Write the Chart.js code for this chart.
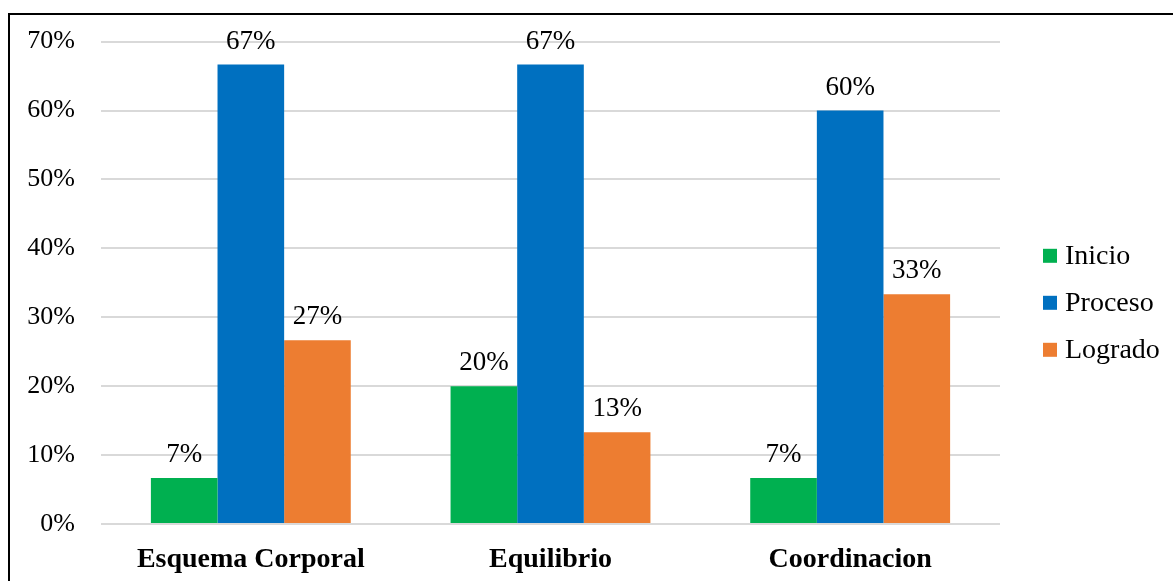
<!DOCTYPE html>
<html>
<head>
<meta charset="utf-8">
<script src="https://cdn.jsdelivr.net/npm/chart.js@4.4.1/dist/chart.umd.min.js"></script>
<style>
  html, body { margin: 0; padding: 0; background: #fff; }
  #wrap { position: relative; width: 1173px; height: 581px; overflow: hidden; }
  #frame { position: absolute; left: 8px; top: 13px; width: 1200px; height: 600px; border-left: 2px solid #000; border-top: 2px solid #000; box-sizing: border-box; pointer-events: none; }
  canvas { position: absolute; left: 0; top: 0; }
</style>
</head>
<body>
<div id="wrap">
  <canvas id="c" width="1173" height="581"></canvas>
  <div id="frame"></div>
</div>
<script>
const categories = ["Esquema Corporal", "Equilibrio", "Coordinacion"];
const seriesNames = ["Inicio", "Proceso", "Logrado"];
const inicio = [6.67, 20.0, 6.67];
const proceso = [66.67, 66.67, 60.0];
const logrado = [26.67, 13.33, 33.33];
const colors = ["#00b050", "#0070c0", "#ed7d31"];
const yMax = 70;
const yStep = 10;

const FONT = "'Liberation Serif', 'Times New Roman', serif";

const valueLabels = {
  id: 'valueLabels',
  afterDatasetsDraw(chart) {
    const ctx = chart.ctx;
    ctx.save();
    ctx.font = "27px " + FONT;
    ctx.fillStyle = "#000";
    ctx.textAlign = "center";
    ctx.textBaseline = "alphabetic";
    chart.data.datasets.forEach((ds, i) => {
      const meta = chart.getDatasetMeta(i);
      meta.data.forEach((bar, j) => {
        const v = ds.data[j];
        ctx.fillText(Math.round(v) + "%", bar.x, bar.y - 16);
      });
    });
    ctx.restore();
  }
};

const sideLegend = {
  id: 'sideLegend',
  afterDraw(chart) {
    const ctx = chart.ctx;
    const ca = chart.chartArea;
    const rowH = 47;
    const n = chart.data.datasets.length;
    const cy = (ca.top + ca.bottom) / 2 + 20;
    const x0 = ca.right + 43;
    ctx.save();
    ctx.font = "28px " + FONT;
    ctx.textAlign = "left";
    ctx.textBaseline = "middle";
    chart.data.datasets.forEach((ds, i) => {
      const y = cy + (i - (n - 1) / 2) * rowH;
      ctx.fillStyle = ds.backgroundColor;
      ctx.fillRect(x0, y - 7, 14, 14);
      ctx.fillStyle = "#000";
      ctx.fillText(ds.label, x0 + 22, y + 1);
    });
    ctx.restore();
  }
};

new Chart(document.getElementById('c'), {
  type: 'bar',
  data: {
    labels: categories,
    datasets: [
      { label: seriesNames[0], data: inicio, backgroundColor: colors[0] },
      { label: seriesNames[1], data: proceso, backgroundColor: colors[1] },
      { label: seriesNames[2], data: logrado, backgroundColor: colors[2] }
    ]
  },
  options: {
    responsive: false,
    animation: false,
    devicePixelRatio: 1,
    layout: { padding: { left: 27, right: 173, top: 39, bottom: 0 } },
    datasets: { bar: { categoryPercentage: 0.667, barPercentage: 1.0 } },
    scales: {
      x: {
        grid: { display: false },
        border: { display: false },
        ticks: { color: "#000", font: { family: FONT, size: 28, weight: "bold" }, padding: 11 },
        afterFit(scale) { scale.height = 57; }
      },
      y: {
        min: 0, max: yMax,
        grid: { color: "#d9d9d9", lineWidth: 2, drawTicks: false },
        border: { display: false },
        ticks: {
          stepSize: yStep,
          color: "#000",
          font: { family: FONT, size: 26 },
          padding: 26,
          callback: v => v + "%"
        },
        afterFit(scale) { scale.width = 74; }
      }
    },
    plugins: {
      legend: { display: false },
      tooltip: { enabled: false }
    }
  },
  plugins: [valueLabels, sideLegend]
});
</script>
</body>
</html>
